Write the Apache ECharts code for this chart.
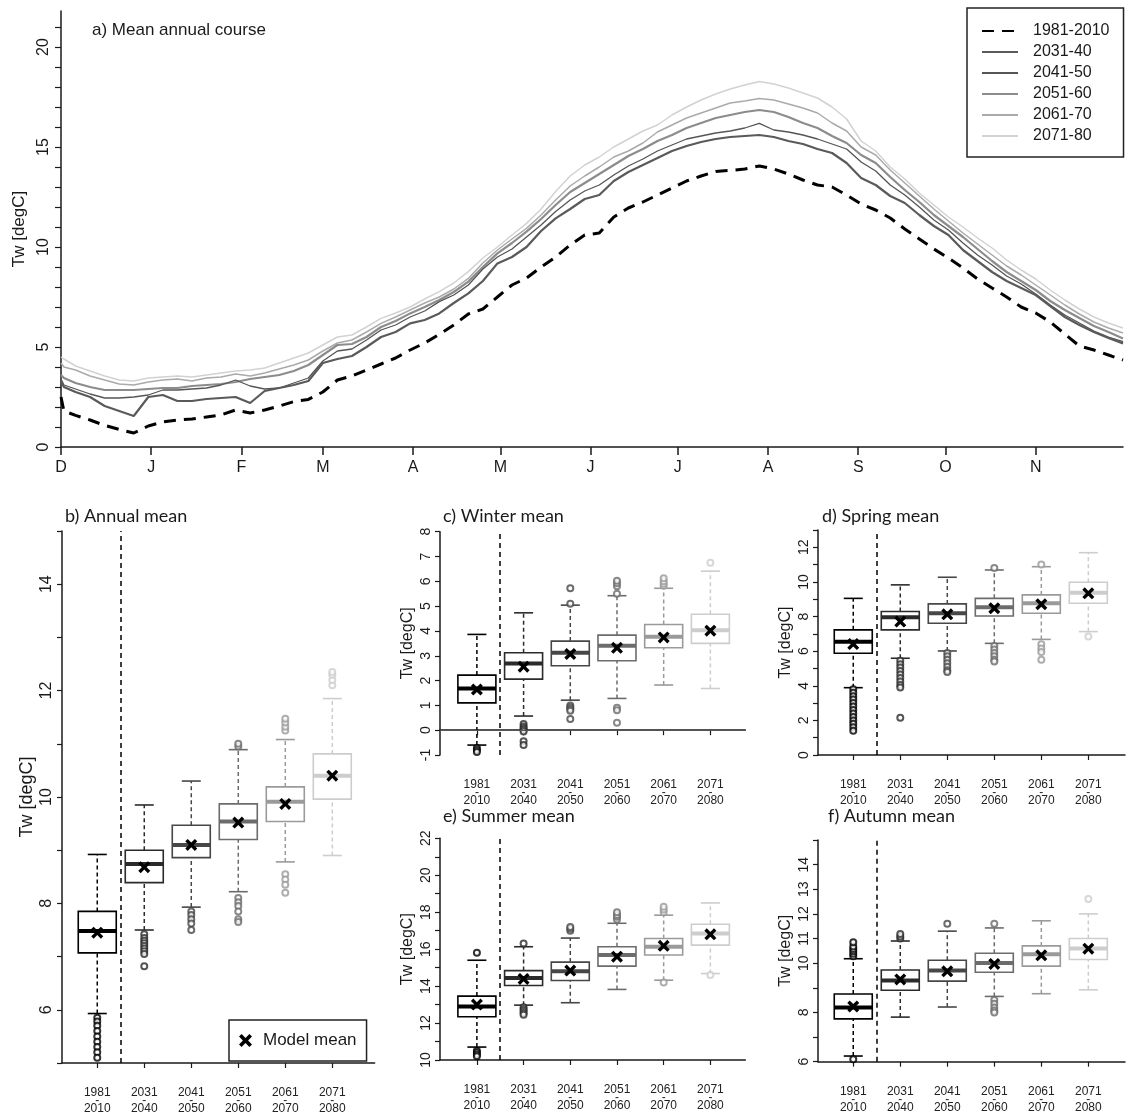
<!DOCTYPE html>
<html lang="en">
<head>
<meta charset="UTF-8">
<title>Tw mean annual course</title>
<script src="https://cdn.jsdelivr.net/npm/echarts@6.0.0/dist/echarts.min.js"></script>
<style>html,body{margin:0;background:#fff;}</style>
</head>
<body>
<div id="main" style="width:1126px;height:1115px;"></div>
<script type="text/javascript">
// a) mean annual course, day of year counted from 1 December
var days = [0, 1, 5, 10, 15, 20, 25, 30, 35, 40, 45, 50, 55, 60, 65,
  70, 75, 80, 85, 90, 95, 100, 105, 110, 115, 120, 125, 130, 135, 140,
  145, 150, 155, 160, 165, 170, 175, 180, 185, 190, 195, 200, 205, 210, 215,
  220, 225, 230, 235, 240, 245, 250, 255, 260, 265, 270, 275, 280, 285, 290,
  295, 300, 305, 310, 315, 320, 325, 330, 335, 340, 345, 350, 355, 360, 365];
var tw1981 = [2.5, 1.8, 1.58, 1.35, 1.08, 0.88, 0.7, 1.05, 1.25, 1.35, 1.4, 1.5, 1.6, 1.85, 1.7,
  1.85, 2.05, 2.27, 2.38, 2.75, 3.35, 3.55, 3.85, 4.15, 4.45, 4.85, 5.2, 5.63, 6.1, 6.65,
  6.9, 7.5, 8.1, 8.45, 9.0, 9.5, 10.1, 10.6, 10.7, 11.5, 11.95, 12.25, 12.6, 12.95, 13.3,
  13.55, 13.77, 13.83, 13.9, 14.05, 13.9, 13.65, 13.35, 13.1, 13.0, 12.6, 12.15, 11.85, 11.45, 10.9,
  10.4, 9.9, 9.45, 8.95, 8.4, 7.95, 7.5, 7.0, 6.7, 6.25, 5.65, 5.05, 4.85, 4.6, 4.35];
var tw2031 = [3.3, 3.0, 2.75, 2.5, 2.05, 1.8, 1.55, 2.5, 2.6, 2.3, 2.3, 2.4, 2.45, 2.5, 2.2,
  2.8, 2.95, 3.1, 3.3, 4.2, 4.4, 4.55, 5.0, 5.5, 5.75, 6.18, 6.35, 6.68, 7.2, 7.68,
  8.3, 9.18, 9.5, 10.0, 10.8, 11.43, 11.9, 12.4, 12.6, 13.3, 13.75, 14.1, 14.45, 14.8, 15.05,
  15.25, 15.4, 15.5, 15.55, 15.6, 15.5, 15.3, 15.15, 14.9, 14.7, 14.2, 13.45, 13.1, 12.55, 12.2,
  11.6, 11.05, 10.6, 9.85, 9.3, 8.75, 8.3, 7.95, 7.6, 7.05, 6.5, 6.1, 5.75, 5.45, 5.18];
var tw2041 = [3.4, 3.1, 2.9, 2.65, 2.45, 2.45, 2.5, 2.6, 2.85, 2.85, 2.9, 2.95, 3.1, 3.35, 3.05,
  2.9, 2.95, 3.2, 3.45, 4.3, 4.8, 4.9, 5.35, 5.85, 6.1, 6.5, 6.8, 7.27, 7.6, 8.1,
  8.9, 9.5, 9.9, 10.5, 11.1, 11.77, 12.35, 12.8, 13.1, 13.6, 14.05, 14.4, 14.8, 15.1, 15.4,
  15.55, 15.7, 15.8, 15.95, 16.18, 15.85, 15.75, 15.6, 15.4, 15.15, 14.9, 14.25, 13.8, 13.1, 12.6,
  12.0, 11.35, 10.85, 10.2, 9.6, 9.1, 8.55, 8.15, 7.65, 7.1, 6.6, 6.2, 5.8, 5.5, 5.27];
var tw2051 = [3.6, 3.45, 3.2, 3.0, 2.85, 2.85, 2.85, 2.9, 2.95, 2.95, 3.05, 3.1, 3.15, 3.25, 3.4,
  3.5, 3.6, 3.8, 4.1, 4.6, 5.1, 5.15, 5.5, 6.0, 6.3, 6.68, 7.0, 7.35, 7.75, 8.27,
  9.0, 9.68, 10.2, 10.77, 11.4, 12.1, 12.75, 13.2, 13.65, 14.1, 14.55, 14.9, 15.3, 15.6, 15.95,
  16.2, 16.45, 16.6, 16.75, 16.85, 16.75, 16.5, 16.2, 15.95, 15.55, 15.2, 14.6, 14.2, 13.5, 12.85,
  12.25, 11.6, 11.05, 10.5, 9.9, 9.3, 8.75, 8.3, 7.85, 7.3, 6.85, 6.45, 6.05, 5.75, 5.43];
var tw2061 = [4.2, 4.0, 3.85, 3.55, 3.35, 3.15, 3.1, 3.25, 3.35, 3.4, 3.3, 3.45, 3.5, 3.65, 3.55,
  3.7, 3.9, 4.1, 4.35, 4.8, 5.2, 5.35, 5.75, 6.18, 6.5, 6.85, 7.2, 7.5, 7.9, 8.43,
  9.2, 9.85, 10.4, 10.93, 11.6, 12.35, 13.05, 13.55, 14.0, 14.5, 14.8, 15.2, 15.75, 16.1, 16.45,
  16.7, 16.95, 17.2, 17.3, 17.43, 17.35, 17.15, 16.95, 16.7, 16.2, 15.8, 15.0, 14.6, 13.85, 13.2,
  12.55, 11.9, 11.3, 10.7, 10.15, 9.6, 9.05, 8.6, 8.1, 7.6, 7.1, 6.65, 6.25, 5.95, 5.7];
var tw2071 = [4.5, 4.4, 4.05, 3.8, 3.55, 3.35, 3.3, 3.45, 3.5, 3.55, 3.5, 3.6, 3.7, 3.8, 3.85,
  3.95, 4.2, 4.45, 4.7, 5.1, 5.5, 5.6, 6.0, 6.43, 6.7, 7.0, 7.4, 7.77, 8.2, 8.77,
  9.45, 10.0, 10.6, 11.18, 11.9, 12.77, 13.55, 14.1, 14.5, 15.0, 15.4, 15.8, 16.1, 16.6, 17.0,
  17.35, 17.65, 17.9, 18.1, 18.27, 18.15, 17.95, 17.7, 17.45, 17.0, 16.4, 15.3, 14.8, 14.0, 13.4,
  12.7, 12.1, 11.5, 11.0, 10.45, 9.95, 9.35, 8.85, 8.4, 7.85, 7.35, 6.9, 6.5, 6.2, 5.95];
var courseNames = ['1981-2010', '2031-40', '2041-50', '2051-60', '2061-70', '2071-80'];
var monthDays = [0, 31, 62, 90, 121, 151, 182, 212, 243, 274, 304, 335];
var monthNames = ['D', 'J', 'F', 'M', 'A', 'M', 'J', 'J', 'A', 'S', 'O', 'N'];

// b)-f) boxplots: [min whisker, q1, median, q3, max whisker]
var periodLabels = ['1981\n-\n2010', '2031\n-\n2040', '2041\n-\n2050', '2051\n-\n2060', '2061\n-\n2070', '2071\n-\n2080'];

var annualBox = [[5.93, 7.07, 7.48, 7.85, 8.92], [7.5, 8.39, 8.74, 9.0, 9.85], [7.93, 8.86, 9.1, 9.47, 10.3],
  [8.22, 9.2, 9.54, 9.87, 10.89], [8.78, 9.54, 9.91, 10.19, 11.08], [8.9, 9.96, 10.4, 10.81, 11.85]];
var annualMean = [7.45, 8.68, 9.1, 9.52, 9.87, 10.4];
var annualOut = [[5.85, 5.78, 5.7, 5.6, 5.5, 5.4, 5.3, 5.2, 5.1],
  [7.42, 7.35, 7.3, 7.25, 7.2, 7.15, 7.1, 7.05, 6.82],
  [7.85, 7.78, 7.7, 7.62, 7.5],
  [10.95, 11.0, 8.1, 8.02, 7.95, 7.85, 7.7, 7.65],
  [11.25, 11.32, 11.4, 11.47, 8.55, 8.45, 8.35, 8.2],
  [12.1, 12.2, 12.3, 12.35]];

var winterBox = [[-0.6, 1.1, 1.68, 2.22, 3.86], [0.57, 2.06, 2.69, 3.12, 4.73], [1.21, 2.6, 3.12, 3.59, 5.04],
  [1.28, 2.8, 3.4, 3.83, 5.42], [1.82, 3.32, 3.77, 4.26, 5.72], [1.68, 3.5, 4.03, 4.67, 6.41]];
var winterMean = [1.64, 2.56, 3.07, 3.32, 3.74, 4.01];
var winterOut = [[-0.72, -0.8, -0.88],
  [0.25, 0.15, 0.08, 0.02, -0.05, -0.45, -0.6],
  [5.1, 5.72, 1.0, 0.92, 0.85, 0.78, 0.45],
  [5.5, 5.8, 5.92, 6.02, 0.9, 0.8, 0.3],
  [5.82, 5.9, 6.0, 6.12],
  [6.75]];

var springBox = [[3.89, 5.88, 6.55, 7.23, 9.05], [5.59, 7.23, 7.96, 8.29, 9.83], [6.01, 7.61, 8.19, 8.73, 10.27],
  [6.45, 8.03, 8.54, 9.05, 10.69], [6.68, 8.19, 8.77, 9.25, 10.88], [7.13, 8.77, 9.38, 9.98, 11.69]];
var springMean = [6.41, 7.71, 8.13, 8.48, 8.71, 9.34];
var springOut = [[3.8, 3.6, 3.4, 3.2, 3.0, 2.8, 2.6, 2.4, 2.2, 2.0, 1.8, 1.6, 1.4],
  [5.45, 5.25, 5.05, 4.85, 4.65, 4.45, 4.25, 4.05, 3.9, 2.15],
  [5.9, 5.7, 5.5, 5.3, 5.1, 4.9, 4.8],
  [10.8, 6.3, 6.1, 5.9, 5.7, 5.5, 5.4],
  [11.0, 6.4, 6.15, 5.95, 5.5],
  [6.85]];

var summerBox = [[10.7, 12.34, 12.9, 13.46, 15.4], [12.97, 14.03, 14.44, 14.84, 16.13], [13.1, 14.3, 14.8, 15.3, 16.6],
  [13.82, 15.08, 15.68, 16.13, 17.4], [14.32, 15.68, 16.13, 16.58, 17.84], [14.68, 16.22, 16.85, 17.35, 18.5]];
var summerMean = [13.0, 14.39, 14.84, 15.59, 16.18, 16.8];
var summerOut = [[15.8, 10.5, 10.4, 10.3, 10.2],
  [16.3, 12.85, 12.75, 12.65, 12.55, 12.45],
  [17.0, 17.1, 17.2],
  [17.6, 17.75, 17.85, 18.0],
  [18.0, 18.15, 18.3, 14.2],
  [14.6]];

var autumnBox = [[6.23, 7.74, 8.2, 8.75, 10.18], [7.81, 8.9, 9.3, 9.72, 10.9], [8.22, 9.27, 9.7, 10.12, 11.3],
  [8.65, 9.63, 10.01, 10.4, 11.43], [8.76, 9.88, 10.36, 10.7, 11.72], [8.92, 10.15, 10.6, 11.0, 12.0]];
var autumnMean = [8.24, 9.34, 9.67, 9.97, 10.32, 10.59];
var autumnOut = [[10.28, 10.38, 10.48, 10.58, 10.68, 10.85, 6.1],
  [11.0, 11.08, 11.18],
  [11.6],
  [11.6, 8.5, 8.35, 8.2, 8.08, 8.0],
  [],
  [12.6]];

var myChart = echarts.init(document.getElementById('main'));

var ink = '#1a1a1a';
var boxColors = ['#000000', '#2b2b2b', '#474747', '#6c6c6c', '#9a9a9a', '#cdcdcd'];
var crossPath = 'path://M2,0L5,3L8,0L10,2L7,5L10,8L8,10L5,7L2,10L0,8L3,5L0,2Z';
var courseStyles = [
  {color: '#000', width: 3, type: [12, 8]},
  {color: '#5a5a5a', width: 2.2, type: 'solid'},
  {color: '#555555', width: 1.3, type: 'solid'},
  {color: '#8c8c8c', width: 2.2, type: 'solid'},
  {color: '#aaaaaa', width: 1.5, type: 'solid'},
  {color: '#d2d2d2', width: 1.5, type: 'solid'}
];
var courseData = [tw1981, tw2031, tw2041, tw2051, tw2061, tw2071];

function range(a, b) {
  var r = [];
  for (var i = a; i <= b; i++) r.push(i);
  return r;
}

// layout of the five box panels
var panels = [
  {title: 'b) Annual mean', tx: 65, ty: 507, grid: {left: 62, top: 531, width: 312.6, height: 532},
    xMin: 0.25, xMax: 6.9, yMin: 5, yMax: 15, ticks: range(5, 15), labels: [6, 8, 10, 12, 14],
    labelSize: 16, nameSize: 18, box: annualBox, mean: annualMean, out: annualOut},
  {title: 'c) Winter mean', tx: 443, ty: 507, grid: {left: 440, top: 531.7, width: 305.4, height: 223.3},
    xMin: 0.21, xMax: 6.75, yMin: -1, yMax: 8, ticks: range(-1, 8), labels: range(-1, 8),
    labelSize: 14, nameSize: 16, box: winterBox, mean: winterMean, out: winterOut, zero: true},
  {title: 'd) Spring mean', tx: 822, ty: 507, grid: {left: 818, top: 530, width: 307, height: 225},
    xMin: 0.25, xMax: 6.78, yMin: 0, yMax: 13, ticks: range(0, 13), labels: [0, 2, 4, 6, 8, 10, 12],
    labelSize: 14, nameSize: 16, box: springBox, mean: springMean, out: springOut},
  {title: 'e) Summer mean', tx: 443, ty: 807, grid: {left: 440, top: 838.3, width: 305.4, height: 221.7},
    xMin: 0.21, xMax: 6.75, yMin: 10, yMax: 22, ticks: range(10, 22), labels: [10, 12, 14, 16, 18, 20, 22],
    labelSize: 14, nameSize: 16, box: summerBox, mean: summerMean, out: summerOut},
  {title: 'f) Autumn mean', tx: 828, ty: 807, grid: {left: 818, top: 840, width: 307, height: 221.7},
    xMin: 0.25, xMax: 6.78, yMin: 6, yMax: 15, ticks: range(6, 15), labels: [6, 8, 10, 11, 12, 13, 14],
    labelSize: 14, nameSize: 16, box: autumnBox, mean: autumnMean, out: autumnOut}
];

function renderBox(params, api) {
  var x = api.value(0);
  var lo = api.coord([x, api.value(1)]);
  var q1 = api.coord([x, api.value(2)]);
  var md = api.coord([x, api.value(3)]);
  var q3 = api.coord([x, api.value(4)]);
  var hi = api.coord([x, api.value(5)]);
  var c = boxColors[params.dataIndex];
  var w = 38, cap = 9.5;
  var dash = {stroke: c, lineWidth: 1.5, lineDash: [4, 3]};
  var solid = {stroke: c, lineWidth: 1.6};
  return {
    type: 'group',
    children: [
      {type: 'line', shape: {x1: lo[0], y1: lo[1], x2: q1[0], y2: q1[1]}, style: dash},
      {type: 'line', shape: {x1: q3[0], y1: q3[1], x2: hi[0], y2: hi[1]}, style: dash},
      {type: 'line', shape: {x1: lo[0] - cap, y1: lo[1], x2: lo[0] + cap, y2: lo[1]}, style: solid},
      {type: 'line', shape: {x1: hi[0] - cap, y1: hi[1], x2: hi[0] + cap, y2: hi[1]}, style: solid},
      {type: 'rect', shape: {x: q3[0] - w / 2, y: q3[1], width: w, height: q1[1] - q3[1]},
        style: {fill: '#fff', stroke: c, lineWidth: 1.6}},
      {type: 'line', shape: {x1: md[0] - w / 2, y1: md[1], x2: md[0] + w / 2, y2: md[1]},
        style: {stroke: c, lineWidth: 4}}
    ]
  };
}

var grids = [{left: 61, right: 3, top: 11, bottom: 668}];
var xAxes = [{
  gridIndex: 0, type: 'value', min: 0, max: 365,
  axisLine: {lineStyle: {color: ink, width: 1.5}},
  axisTick: {customValues: monthDays, length: 8, lineStyle: {color: ink, width: 1.5}},
  axisLabel: {customValues: monthDays, margin: 13, color: ink, fontSize: 16, fontFamily: 'Liberation Sans',
    formatter: function (v) { return monthNames[monthDays.indexOf(v)]; }},
  splitLine: {show: false}
}];
var yAxes = [{
  gridIndex: 0, type: 'value', min: 0, max: 21.8,
  name: 'Tw [degC]', nameLocation: 'middle', nameGap: 28,
  nameTextStyle: {color: ink, fontSize: 17, fontFamily: 'Liberation Sans'},
  axisLine: {show: true, lineStyle: {color: ink, width: 1.5}},
  axisTick: {customValues: range(0, 21), length: 6, lineStyle: {color: ink, width: 1.2}},
  axisLabel: {customValues: [0, 5, 10, 15, 20], rotate: 90, margin: 9, color: ink, fontSize: 16,
    fontFamily: 'Liberation Sans'},
  splitLine: {show: false}
}];
var titles = [{text: 'a) Mean annual course', left: 92, top: 22, padding: 0,
  textStyle: {color: ink, fontSize: 17, fontWeight: 'normal', fontFamily: 'Liberation Sans'}}];

var series = [];
for (var s = 5; s >= 0; s--) {
  series.push({
    name: courseNames[s], type: 'line', xAxisIndex: 0, yAxisIndex: 0,
    showSymbol: false, symbol: 'none', z: 2 + (s === 0 ? 5 : 5 - s),
    lineStyle: courseStyles[s], itemStyle: {color: courseStyles[s].color},
    data: days.map(function (d, i) { return [d, this[i]]; }, courseData[s])
  });
}

panels.forEach(function (p, k) {
  var gi = k + 1;
  grids.push(p.grid);
  xAxes.push({
    gridIndex: gi, type: 'value', min: p.xMin, max: p.xMax,
    axisLine: {lineStyle: {color: ink, width: 1.5}},
    axisTick: {customValues: [1, 2, 3, 4, 5, 6], length: 5, lineStyle: {color: ink, width: 1.2}},
    axisLabel: {customValues: [1, 2, 3, 4, 5, 6], margin: 26, color: '#222', fontSize: 12, lineHeight: 8,
      fontFamily: 'Liberation Sans', formatter: function (v) { return periodLabels[v - 1]; }},
    splitLine: {show: false}
  });
  yAxes.push({
    gridIndex: gi, type: 'value', min: p.yMin, max: p.yMax,
    name: 'Tw [degC]', nameLocation: 'middle', nameGap: k === 0 ? 26 : 24,
    nameTextStyle: {color: ink, fontSize: p.nameSize, fontFamily: 'Liberation Sans'},
    axisLine: {show: true, lineStyle: {color: ink, width: 1.5}},
    axisTick: {customValues: p.ticks, length: 5, lineStyle: {color: ink, width: 1.2}},
    axisLabel: {customValues: p.labels, rotate: 90, margin: 7, color: ink, fontSize: p.labelSize,
      fontFamily: 'Liberation Sans'},
    splitLine: {show: false}
  });
  titles.push({text: p.title, left: p.tx, top: p.ty, padding: 0,
    textStyle: {color: ink, fontSize: 18, fontWeight: 'normal', fontFamily: 'Lato'}});

  series.push({
    type: 'custom', xAxisIndex: gi, yAxisIndex: gi, renderItem: renderBox, z: 3,
    encode: {x: 0, y: [1, 2, 3, 4, 5]},
    data: p.box.map(function (b, i) { return [i + 1].concat(b); })
  });
  var outs = [];
  p.out.forEach(function (list, i) {
    list.forEach(function (v) {
      outs.push({value: [i + 1, v], itemStyle: {color: boxColors[i], borderColor: boxColors[i]}});
    });
  });
  series.push({
    type: 'scatter', xAxisIndex: gi, yAxisIndex: gi, symbol: 'emptyCircle', symbolSize: 6, z: 4,
    itemStyle: {borderWidth: 1.2}, data: outs
  });
  var marks = [{xAxis: 1.5}];
  if (p.zero) {
    marks.push({yAxis: 0, lineStyle: {type: 'solid', color: '#555', width: 1}});
  }
  series.push({
    name: 'Model mean', type: 'scatter', xAxisIndex: gi, yAxisIndex: gi, symbol: crossPath, symbolSize: 12, z: 6,
    itemStyle: {color: '#000', opacity: 1},
    data: p.mean.map(function (m, i) { return [i + 1, m]; }),
    markLine: {silent: true, symbol: ['none', 'none'], label: {show: false},
      lineStyle: {type: [5, 4], color: '#000', width: 1.5}, data: marks}
  });
});

myChart.setOption({
  animation: false,
  backgroundColor: '#fff',
  title: titles,
  legend: [{
    data: courseNames, orient: 'vertical', left: 967, top: 8, padding: [14, 14, 12, 14],
    itemWidth: 36, itemHeight: 14, itemGap: 3,
    itemStyle: {opacity: 0},
    backgroundColor: '#fff', borderColor: '#222', borderWidth: 1.5,
    textStyle: {color: ink, fontSize: 16, lineHeight: 18, fontFamily: 'Liberation Sans', padding: [0, 0, 0, 10]}
  }, {
    data: ['Model mean'], left: 229, top: 1020, padding: [12, 10, 12, 10],
    itemWidth: 13, itemHeight: 13, itemGap: 0,
    backgroundColor: '#fff', borderColor: '#222', borderWidth: 1.5,
    textStyle: {color: ink, fontSize: 17, fontFamily: 'Liberation Sans', padding: [0, 0, 0, 6]}
  }],
  grid: grids,
  xAxis: xAxes,
  yAxis: yAxes,
  series: series
});
</script>
</body>
</html>
